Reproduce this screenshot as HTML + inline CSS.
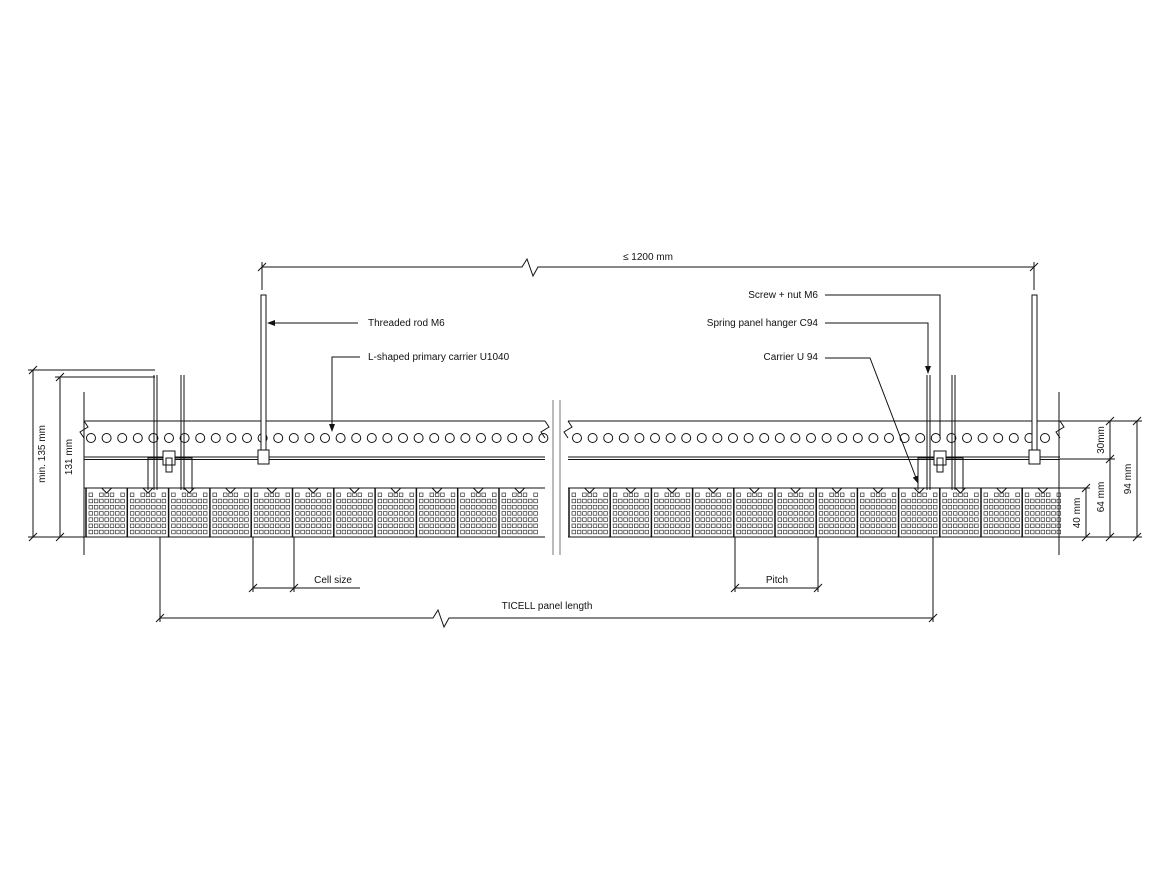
<!DOCTYPE html>
<html><head><meta charset="utf-8"><style>
html,body{margin:0;padding:0;background:#fff;width:1170px;height:878px;overflow:hidden}
svg text{font-family:"Liberation Sans",sans-serif;font-size:10px;fill:#111}
</style></head><body>
<svg id="s" width="1170" height="878" viewBox="0 0 1170 878" xmlns="http://www.w3.org/2000/svg" stroke="#111" stroke-width="1" fill="none">
<defs>
<marker id="a" markerWidth="8" markerHeight="6" refX="7" refY="3" orient="auto"><path d="M0,0 L8,3 L0,6 z" fill="#111" stroke="none"/></marker>
</defs>
<g id="g"></g>
<!-- top dimension -->
<path d="M262,267 H522 L527,259 L533,276 L538,267 H1034"/>
<path d="M258,271 L266,263 M1030,271 L1038,263"/>
<path d="M262,262 V290 M1034,262 V290"/>
<text x="648" y="260" text-anchor="middle" stroke="none">≤ 1200 mm</text>
<!-- carrier band left -->
<path d="M84,421 H545 M84,457 H545 M84,459.5 H545 M568,421 H1060 M568,457 H1060 M568,459.5 H1060"/>
<path d="M84,392 V555 M1059,392 V555"/>
<path d="M553,400 V555 M560,400 V555" stroke="#777"/>
<!-- panels -->
<path d="M84,488 H545 M84,537 H545 M568,488 H1060 M568,537 H1060"/>
<!-- rods -->
<rect x="261" y="295" width="5" height="168" fill="#fff"/>
<rect x="1032" y="295" width="5" height="168" fill="#fff"/>
<rect x="258" y="450" width="11" height="14" fill="#fff"/>
<rect x="1029" y="450" width="11" height="14" fill="#fff"/>
<!-- hangers left -->
<path d="M154,375 V490 M157,375 V490 M181,375 V490 M184,375 V490"/>
<path d="M148,490 V458 H192 V490" />
<rect x="163" y="451" width="12" height="14" fill="#fff"/>
<rect x="166" y="458" width="6" height="14"/>
<!-- hangers right -->
<path d="M927,375 V490 M930,375 V490 M952,375 V490 M955,375 V490"/>
<path d="M918,490 V458 H963 V490"/>
<rect x="934" y="451" width="12" height="14" fill="#fff"/>
<rect x="937" y="458" width="6" height="14"/>
<!-- left dims -->
<path d="M28,370 H155 M55,377 H155 M28,537 H84 M55,537 H84"/>
<path d="M33,370 V537 M60,377 V537"/>
<path d="M29,374 L37,366 M56,381 L64,373 M29,541 L37,533 M56,541 L64,533"/>
<text transform="translate(45,454) rotate(-90)" text-anchor="middle" stroke="none">min. 135 mm</text>
<text transform="translate(72,457) rotate(-90)" text-anchor="middle" stroke="none">131 mm</text>
<!-- right dims -->
<path d="M1060,421 H1142 M1060,459 H1115 M1060,488 H1090 M1060,537 H1142"/>
<path d="M1086,488 V537 M1110,421 V537 M1137,421 V537"/>
<path d="M1082,492 L1090,484 M1082,541 L1090,533 M1106,425 L1114,417 M1106,463 L1114,455 M1106,541 L1114,533 M1133,425 L1141,417 M1133,541 L1141,533"/>
<text transform="translate(1104,440) rotate(-90)" text-anchor="middle" stroke="none">30mm</text>
<text transform="translate(1104,497) rotate(-90)" text-anchor="middle" stroke="none">64 mm</text>
<text transform="translate(1131,479) rotate(-90)" text-anchor="middle" stroke="none">94 mm</text>
<text transform="translate(1080,513) rotate(-90)" text-anchor="middle" stroke="none">40 mm</text>
<!-- bottom dims -->
<path d="M253,537 V592 M294,537 V592 M249,592 L257,584 M290,592 L298,584 M253,588 H360"/>
<text x="333" y="583" text-anchor="middle" stroke="none">Cell size</text>
<path d="M735,537 V592 M818,537 V592 M731,592 L739,584 M814,592 L822,584 M735,588 H818"/>
<text x="777" y="583" text-anchor="middle" stroke="none">Pitch</text>
<path d="M160,537 V622 M933,537 V622 M156,622 L164,614 M929,622 L937,614"/>
<path d="M160,618 H433 L438,610 L444,627 L449,618 H933"/>
<text x="547" y="609" text-anchor="middle" stroke="none">TICELL panel length</text>
<!-- labels -->
<text x="368" y="326" stroke="none">Threaded rod M6</text>
<path d="M358,323 H268" marker-end="url(#a)"/>
<text x="368" y="360" stroke="none">L-shaped primary carrier U1040</text>
<path d="M360,357 H332 V431" marker-end="url(#a)"/>
<text x="818" y="298" text-anchor="end" stroke="none">Screw + nut M6</text>
<path d="M825,295 H940 V438"/>
<text x="818" y="326" text-anchor="end" stroke="none">Spring panel hanger C94</text>
<path d="M825,323 H928 V373" marker-end="url(#a)"/>
<text x="818" y="360" text-anchor="end" stroke="none">Carrier U 94</text>
<path d="M825,358 H870 L918,483" marker-end="url(#a)"/>
</svg>
<script>
var g=document.getElementById('g'),ns='http://www.w3.org/2000/svg',h='';
function holes(x0,x1){for(var x=x0;x<x1;x+=15.6)h+='<circle cx="'+x+'" cy="438" r="4.5"/>';}
holes(91,545);holes(577,1060);
// break marks
h+='<path d="M84,421 L88,427 L80,432 L84,438 M545,421 L549,427 L541,432 L545,438 M568,421 L572,427 L564,432 L568,438 M1060,421 L1064,427 L1056,432 L1060,438"/>';
function cells(x0,n,w){for(var i=0;i<n;i++){var x=x0+i*w;h+='<line x1="'+x+'" y1="488" x2="'+x+'" y2="537" stroke-width="1.5"/>';
h+='<path d="M'+(x+w/2-5)+',488 L'+(x+w/2)+',493 L'+(x+w/2+5)+',488"/>';
for(var r=0;r<7;r++)for(var c=0;c<7;c++){if(r==0&&(c==1||c==5))continue;var sx=x+3+c*5.3,sy=493+r*6.2;
h+='<rect x="'+sx.toFixed(1)+'" y="'+sy.toFixed(1)+'" width="3.6" height="3.6" stroke-width="0.7" stroke="#333"/>';}}}
cells(86,11,41.3);cells(569,12,41.2);
g.innerHTML=h;
</script>
</body></html>
